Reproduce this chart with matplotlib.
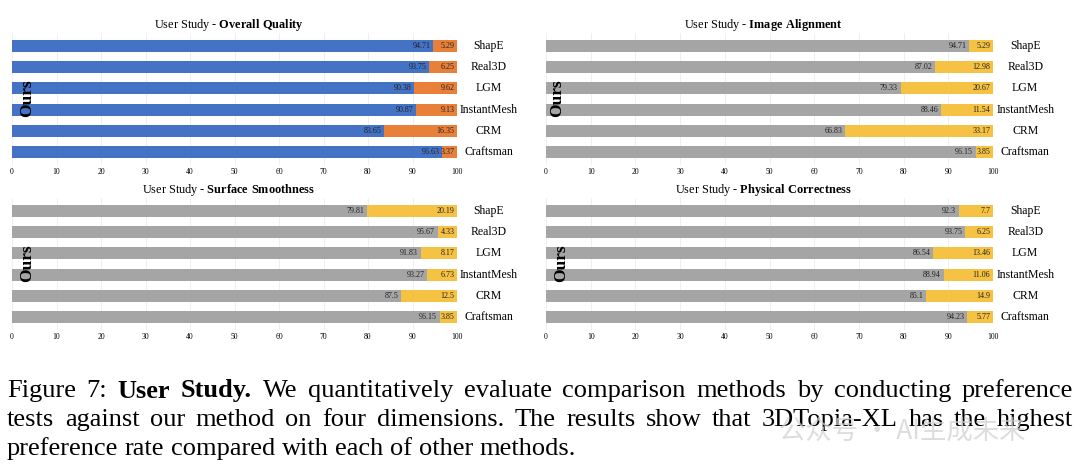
import numpy as np
import matplotlib.pyplot as plt

plt.rcParams['font.family'] = ['Liberation Serif', 'DejaVu Serif']
plt.rcParams['mathtext.fontset'] = 'custom'
plt.rcParams['mathtext.rm'] = 'Liberation Serif'
plt.rcParams['mathtext.bf'] = 'Liberation Serif:bold'

methods = ["ShapE", "Real3D", "LGM", "InstantMesh", "CRM", "Craftsman"]

quality_ours = [94.71, 93.75, 90.38, 90.87, 83.65, 96.63]
quality_other = [5.29, 6.25, 9.62, 9.13, 16.35, 3.37]
align_ours = [94.71, 87.02, 79.33, 88.46, 66.83, 96.15]
align_other = [5.29, 12.98, 20.67, 11.54, 33.17, 3.85]
smooth_ours = [79.81, 95.67, 91.83, 93.27, 87.5, 96.15]
smooth_other = [20.19, 4.33, 8.17, 6.73, 12.5, 3.85]
physics_ours = [92.3, 93.75, 86.54, 88.94, 85.1, 94.23]
physics_other = [7.7, 6.25, 13.46, 11.06, 14.9, 5.77]

BLUE, ORANGE = '#4472C4', '#E8803A'
GRAY, YELLOW = '#A5A5A5', '#F6C243'

W, H = 1080, 472
fig = plt.figure(figsize=(W / 100, H / 100), dpi=100)


def px_rect(x0, y0, x1, y1):
    # pixel box (top-left origin) -> figure fraction rect
    return [x0 / W, 1 - y1 / H, (x1 - x0) / W, (y1 - y0) / H]


panels = [
    ("Overall\\ Quality", quality_ours, quality_other, BLUE, ORANGE, px_rect(12, 33, 457, 165), 3.3),
    ("Image\\ Alignment", align_ours, align_other, GRAY, YELLOW, px_rect(546, 33, 993, 165), 2.6),
    ("Surface\\ Smoothness", smooth_ours, smooth_other, GRAY, YELLOW, px_rect(12, 198, 457, 330), 3.3),
    ("Physical\\ Correctness", physics_ours, physics_other, GRAY, YELLOW, px_rect(546, 198, 993, 330), 3.3),
]

for name, ours, other, c1, c2, rect, ours_x in panels:
    ax = fig.add_axes(rect)
    y = np.arange(len(methods))
    ax.barh(y, ours, height=0.57, color=c1, zorder=2)
    ax.barh(y, other, left=ours, height=0.57, color=c2, zorder=2)

    for i in range(len(methods)):
        ax.text(ours[i] - 0.6, y[i], str(ours[i]), ha='right', va='center',
                fontsize=5.8, color='#222222', zorder=3)
        ax.text(99.4, y[i], str(other[i]), ha='right', va='center',
                fontsize=5.8, color='#222222', zorder=3)
        ax.text(107.2, y[i], methods[i], ha='center', va='center',
                fontsize=8.5, clip_on=False)

    ax.text(ours_x, 2.45, "Ours", rotation=90, ha='center', va='center',
            fontsize=12.5, fontweight='bold', zorder=4)

    ax.set_xlim(0, 100)
    ax.set_ylim(5.6, -0.6)
    ax.set_xticks(np.arange(0, 101, 10))
    ax.set_yticks([])
    ax.tick_params(axis='x', length=0, labelsize=5.5, pad=2)
    ax.grid(axis='x', color='#ececec', linewidth=0.6, zorder=0)
    for s in ax.spines.values():
        s.set_visible(False)
    ax.set_title(r"User Study - $\mathbf{" + name + "}$", fontsize=8.8, pad=3.5, x=0.487)

# caption, justified like the paper
cap_size = 19
renderer = fig.canvas.get_renderer()


def caption_line(words, ycen, x0, x1, bold=(), justify=True):
    texts = []
    for i, w in enumerate(words):
        t = fig.text(0, 1 - ycen / H, w, fontsize=cap_size, va='center',
                     fontweight='bold' if i in bold else 'normal')
        texts.append(t)
    widths = [t.get_window_extent(renderer).width for t in texts]
    if justify:
        gap = (x1 - x0 - sum(widths)) / (len(words) - 1)
    else:
        gap = cap_size * 100 / 72 * 0.25
    x = x0
    for t, w in zip(texts, widths):
        t.set_x(x / W)
        x += w + gap


caption_line("Figure 7: User Study. We quantitatively evaluate comparison methods by conducting preference".split(),
             391, 7, 1073, bold=(2, 3))
caption_line("tests against our method on four dimensions. The results show that 3DTopia-XL has the highest".split(),
             420, 7, 1073)
caption_line("preference rate compared with each of other methods.".split(), 449, 7, 1073, justify=False)

# faint watermark
fig.text(0.721, 1 - 431 / H, "公众号 · AI生成未来", fontsize=19, color='#d2d2d2', alpha=0.75,
         va='center', family=['Noto Sans CJK SC', 'DejaVu Sans'])

fig.savefig("out.png", dpi=100)
